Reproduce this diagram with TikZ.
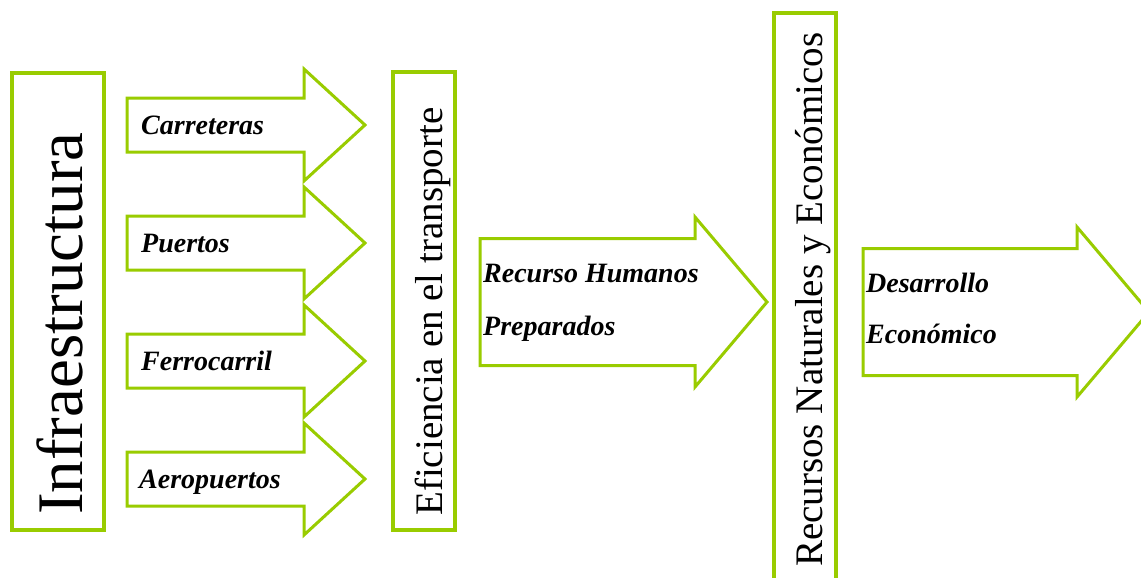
\documentclass[tikz,border=0pt]{standalone}
\usepackage{fontspec}
\setmainfont{Liberation Serif}
\definecolor{leaf}{HTML}{99CC00}
\tikzset{
  box/.style={draw=leaf, line width=4pt},
  barrow/.style={draw=leaf, line width=3pt, line join=miter, fill=white},
  vtext/.style={rotate=90, anchor=base west, inner sep=0pt, text=black},
  atext/.style={anchor=base west, inner sep=0pt, text=black, font=\bfseries\itshape\fontsize{28}{28}\selectfont},
  pics/blockarrow/.style n args={4}{code={
    \draw[barrow] (0,-#2) -- (#1,-#2) -- (#1,-#3) -- (#4,0) -- (#1,#3) -- (#1,#2) -- (0,#2) -- cycle;
  }},
}
\begin{document}
\begin{tikzpicture}[x=1pt,y=-1pt]
\useasboundingbox (0,0) rectangle (1141,578);
\fill[white] (0,0) rectangle (1141,578);
\clip (0,0) rectangle (1141,578);

% boxes
\draw[box] (11.5,73) rectangle (104,530);
\draw[box] (393,72) rectangle (455,530);
\draw[box] (774,13) rectangle (836,590);
\node[vtext, font=\fontsize{65}{65}\selectfont] (infra) at (82,515) {Infraestructura};
\node[vtext, font=\fontsize{39}{39}\selectfont] (efic) at (442,516) {Eficiencia en el transporte};
\node[vtext, font=\fontsize{39}{39}\selectfont] (recnat) at (822,567) {Recursos Naturales y Económicos};

% small arrows
\pic at (127,125) {blockarrow={177}{27}{56}{238}};
\pic at (127,243) {blockarrow={177}{27}{56}{238}};
\pic at (127,361) {blockarrow={177}{27}{56}{238}};
\pic at (127,479) {blockarrow={177}{27}{56}{238}};
\node[atext] (carr) at (141,134) {Carreteras};
\node[atext] (puer) at (141,252) {Puertos};
\node[atext] (ferr) at (141,370) {Ferrocarril};
\node[atext] (aero) at (139,488) {Aeropuertos};

% big arrows
\pic at (480,302) {blockarrow={215}{63.5}{85}{287}};
\node[atext] (rech1) at (483,282) {Recurso Humanos};
\node[atext] (rech2) at (483,335) {Preparados};

\pic at (863,312) {blockarrow={214}{63.5}{85}{286}};
\node[atext] (des1) at (866,292) {Desarrollo};
\node[atext] (des2) at (866,343) {Económico};
\end{tikzpicture}
\end{document}
